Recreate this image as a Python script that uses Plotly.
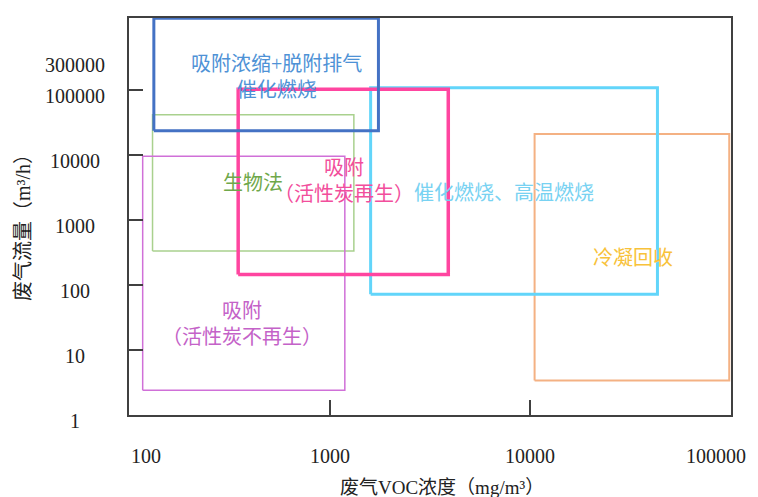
import math
import plotly.graph_objects as go

# ---- data ----
methods = ["冷凝回收", "生物法", "吸附（活性炭不再生）", "催化燃烧、高温燃烧",
           "吸附（活性炭再生）", "吸附浓缩+脱附排气催化燃烧"]
conc_low = [10500, 131, 117, 1600, 350, 133]          # mg/m3
conc_high = [98000, 1320, 1190, 43000, 3900, 1750]
flow_low = [3.4, 333, 2.4, 72, 145, 23800]            # m3/h
flow_high = [21100, 41800, 9640, 109000, 102800, 1280000]
label_texts = ["冷凝回收", "生物法", "吸附<br>（活性炭不再生）", "催化燃烧、高温燃烧",
               "吸附<br>（活性炭再生）", "吸附浓缩+脱附排气<br>催化燃烧"]

x_tick_labels = ["100", "1000", "10000", "100000"]
y_tick_labels = ["1", "10", "100", "1000", "10000", "100000", "300000"]

# ---- styling ----
rect_colors = ["#F4B183", "#A9D18E", "#D070D8", "#62D5FA", "#FF45A0", "#4472C4"]
rect_widths = [2, 1.5, 1.5, 3, 3.5, 3]
text_colors = ["#F8C23A", "#6FA84A", "#C462C8", "#78D2F2", "#F24E9C", "#4E92D6"]
# label centres in log10 space (x, y)
label_pos = [(4.511, 2.41), (2.618, 3.571), (2.562, 1.402), (3.868, 3.418),
             (3.070, 3.609), (2.736, 5.206)]

NUM_FONT = "Liberation Serif, Noto Sans CJK SC, serif"
axis_color = "#404040"

fig = go.Figure()
for i, name in enumerate(methods):
    xs = [conc_low[i], conc_high[i], conc_high[i], conc_low[i], conc_low[i]]
    ys = [flow_low[i], flow_low[i], flow_high[i], flow_high[i], flow_low[i]]
    fig.add_trace(go.Scatter(x=xs, y=ys, mode="lines", name=name,
                             line=dict(color=rect_colors[i], width=rect_widths[i]),
                             showlegend=False, hoverinfo="name"))

annotations = []
for i, t in enumerate(label_texts):
    lx, ly = label_pos[i]
    annotations.append(dict(x=lx, y=ly, xref="x", yref="y", text=t, showarrow=False,
                            font=dict(size=20, color=text_colors[i], family=NUM_FONT),
                            xanchor="center", yanchor="middle"))

# y tick labels (centred, slightly below their ticks like the reference)
for t in y_tick_labels:
    annotations.append(dict(x=-0.090, y=math.log10(float(t)), xref="paper", yref="y",
                            text=t, showarrow=False, yshift=-6,
                            font=dict(size=20, color="#222222", family=NUM_FONT),
                            xanchor="center", yanchor="middle"))
# x tick labels
n_x = len(x_tick_labels)
for j, t in enumerate(x_tick_labels):
    annotations.append(dict(x=math.log10(float(t)), y=-0.103, xref="x", yref="paper",
                            text=t, showarrow=False,
                            xshift=-15 if j == n_x - 1 else 0,
                            font=dict(size=20, color="#222222", family=NUM_FONT),
                            xanchor="left" if j == 0 else "center", yanchor="middle"))

# axis titles
annotations.append(dict(x=0.52, y=-0.183, xref="paper", yref="paper",
                        text="废气VOC浓度（mg/m³）", showarrow=False,
                        font=dict(size=19, color="#222222", family=NUM_FONT),
                        xanchor="center", yanchor="middle"))
annotations.append(dict(x=-0.175, y=0.485, xref="paper", yref="paper",
                        text="废气流量（m³/h）", showarrow=False, textangle=-90,
                        font=dict(size=20, color="#222222", family=NUM_FONT),
                        xanchor="center", yanchor="middle"))

fig.update_layout(
    width=750, height=489,
    margin=dict(l=121, r=27, t=8, b=82),
    paper_bgcolor="white", plot_bgcolor="white",
    annotations=annotations,
    xaxis=dict(type="log", range=[2, 5], showgrid=False, zeroline=False,
               tickvals=[1000, 10000], ticks="inside", ticklen=15, tickwidth=2,
               tickcolor=axis_color, showticklabels=False,
               showline=True, linecolor=axis_color, linewidth=2, mirror=True),
    yaxis=dict(type="log", range=[0, 6.11], showgrid=False, zeroline=False,
               tickvals=[10, 100, 1000, 10000, 100000], ticks="inside", ticklen=14,
               tickwidth=2, tickcolor=axis_color, showticklabels=False,
               showline=True, linecolor=axis_color, linewidth=2, mirror=True),
)

fig.write_html("out.html")
